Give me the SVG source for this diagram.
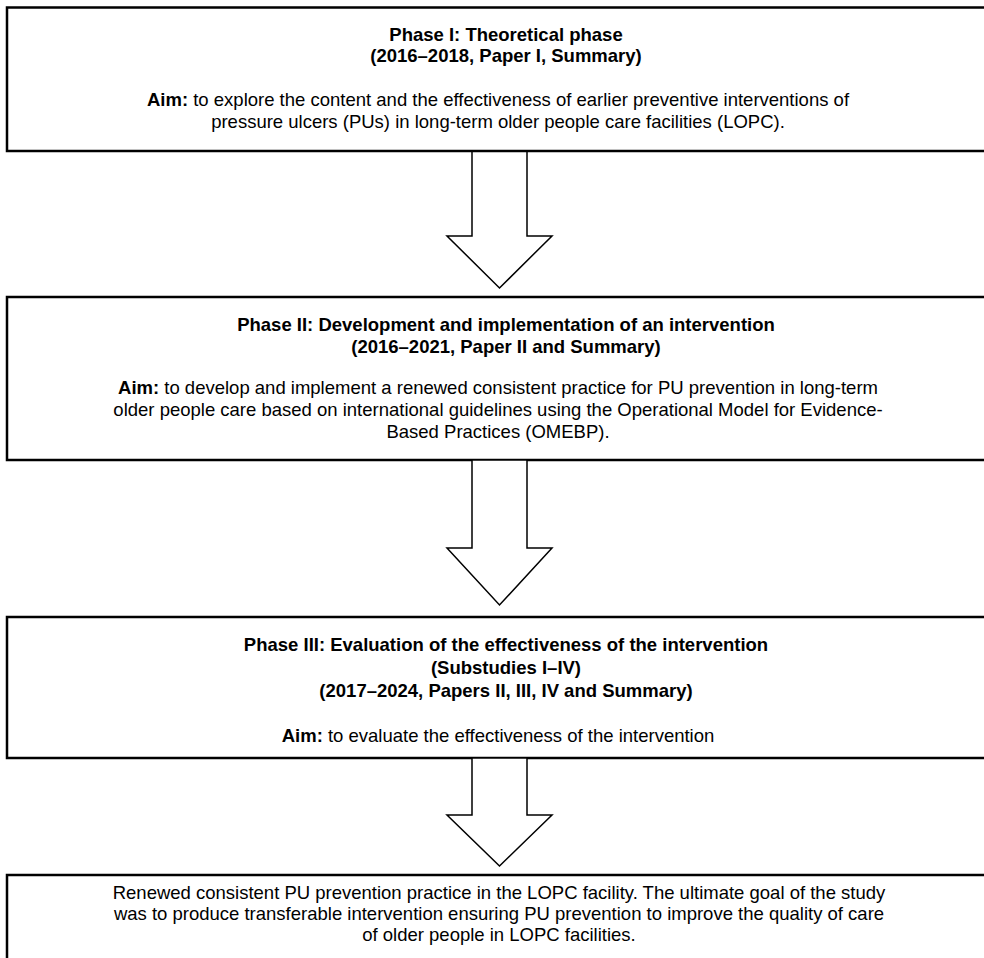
<svg xmlns="http://www.w3.org/2000/svg" width="984" height="958" viewBox="0 0 984 958">
  <style>
    .box { fill: #ffffff; stroke: #000000; stroke-width: 2.5; }
    .arrow { fill: #ffffff; stroke: #000000; stroke-width: 1.5; stroke-linejoin: miter; }
    text { font-family: "Liberation Sans", Arial, sans-serif; font-size: 18.5px; fill: #000000; text-anchor: middle; }
    .title { font-weight: bold; }
    .b { font-weight: bold; }
  </style>
  <rect width="984" height="958" fill="#ffffff"/>

  <!-- Phase I -->
  <g id="phase1">
    <rect class="box" x="7" y="7.5" width="1000" height="143.5"/>
    <text class="title" x="506" y="41">Phase I: Theoretical phase</text>
    <text class="title" x="506" y="62">(2016–2018, Paper I, Summary)</text>
    <text x="498" y="106"><tspan class="b">Aim:</tspan> to explore the content and the effectiveness of earlier preventive interventions of</text>
    <text x="498" y="128">pressure ulcers (PUs) in long-term older people care facilities (LOPC).</text>
  </g>

  <!-- Phase II -->
  <g id="phase2">
    <rect class="box" x="7" y="297" width="1000" height="163"/>
    <text class="title" x="506" y="331">Phase II: Development and implementation of an intervention</text>
    <text class="title" x="506" y="353">(2016–2021, Paper II and Summary)</text>
    <text x="498" y="394"><tspan class="b">Aim:</tspan> to develop and implement a renewed consistent practice for PU prevention in long-term</text>
    <text x="498" y="416">older people care based on international guidelines using the Operational Model for Evidence-</text>
    <text x="498" y="438">Based Practices (OMEBP).</text>
  </g>

  <!-- Phase III -->
  <g id="phase3">
    <rect class="box" x="7" y="617" width="1000" height="141"/>
    <text class="title" x="506" y="651">Phase III: Evaluation of the effectiveness of the intervention</text>
    <text class="title" x="506" y="674">(Substudies I–IV)</text>
    <text class="title" x="506" y="697">(2017–2024, Papers II, III, IV and Summary)</text>
    <text x="498" y="742"><tspan class="b">Aim:</tspan> to evaluate the effectiveness of the intervention</text>
  </g>

  <!-- Outcome -->
  <g id="outcome">
    <rect class="box" x="7" y="875" width="1000" height="90"/>
    <text x="499" y="899">Renewed consistent PU prevention practice in the LOPC facility. The ultimate goal of the study</text>
    <text x="499" y="920">was to produce transferable intervention ensuring PU prevention to improve the quality of care</text>
    <text x="499" y="941">of older people in LOPC facilities.</text>
  </g>

  <!-- Block arrows between phases -->
  <g id="connectors">
    <polygon class="arrow" points="472,151.5 527,151.5 527,236 552,236 499.5,288 447,236 472,236"/>
    <polygon class="arrow" points="472,460 527,460 527,548 552,548 499.5,605 447,548 472,548"/>
    <polygon class="arrow" points="472,758 527,758 527,815 552,815 499.5,866 447,815 472,815"/>
  </g>
</svg>
